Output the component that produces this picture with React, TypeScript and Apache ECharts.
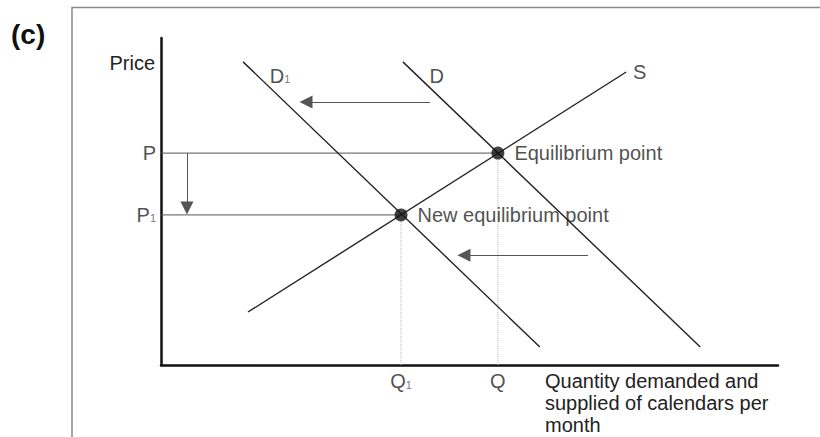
import React, { useEffect, useRef } from "react";
import * as echarts from "echarts";

// Curves (axis units 0-100)
const demandD: [number, number][] = [[39.2, 92.7], [87.4, 5.5]];
const demandD1: [number, number][] = [[13.3, 92.7], [61.4, 5.5]];
const supplyS: [number, number][] = [[14.1, 16.2], [75.4, 89.6]];
// Equilibria
const equilibrium: [number, number] = [54.6, 64.8];
const newEquilibrium: [number, number] = [38.9, 45.9];
// Shift arrows [tail, arrow-head centre]
const shiftArrows: [number, number][][] = [
  [[43.6, 80.4], [23.5, 80.4]],
  [[69.2, 33.6], [49.1, 33.6]],
  [[4.2, 64.8], [4.2, 48.0]],
];
// Curve name labels
const curveLabels: [number, number, string][] = [
  [19.3, 88.4, "{m|D}{s|1}"],
  [44.7, 88.4, "{m|D}"],
  [77.6, 89.6, "{m|S}"],
];
const pointLabels = ["Equilibrium point", "New equilibrium point"];
const priceTicks: [number, string][] = [[equilibrium[1], "{m|P}"], [newEquilibrium[1], "{m|P}{s|1}"]];
const qtyTicks: [number, string][] = [[equilibrium[0], "{m|Q}"], [newEquilibrium[0], "{m|Q}{s|1}"]];
const xTitle = "Quantity demanded and\nsupplied of calendars per\nmonth";
const yTitle = "Price";
const panelTag = "(c)";

const FONT = "'Liberation Sans', Arial, sans-serif";
const TXT = "#222";
const rich = {
  m: { fontSize: 20, color: TXT, fontFamily: FONT },
  s: { fontSize: 11, color: "#555", fontFamily: FONT, verticalAlign: "bottom" as const, padding: [0, 0, 1, 0] },
};

export default function App() {
  const ref = useRef<HTMLDivElement>(null);
  useEffect(() => {
    const chart = echarts.init(ref.current!, undefined, { renderer: "svg" });
    const axisBase = {
      type: "value" as const,
      min: 0,
      max: 100,
      axisLine: { show: true, lineStyle: { color: "#111", width: 2.5 } },
      axisTick: { show: false },
      axisLabel: { show: false },
      splitLine: { show: false },
    };
    const curve = (data: [number, number][]) => ({
      type: "line" as const,
      data,
      symbol: "none",
      lineStyle: { color: "#222", width: 1.4 },
      z: 3,
    });
    chart.setOption({
      animation: false,
      backgroundColor: "#fff",
      grid: { left: 161, top: 38, right: 42, bottom: 72 },
      xAxis: axisBase,
      yAxis: axisBase,
      graphic: [
        {
          type: "polyline",
          shape: { points: [[72, 437], [72, 7.5], [820, 7.5]] },
          style: { stroke: "#8a8a8a", lineWidth: 1.5, fill: "none" },
        },
        {
          type: "text",
          left: 11,
          top: 20,
          style: { text: panelTag, font: `bold 28px ${FONT}`, fill: "#111" },
        },
        {
          type: "text",
          right: 820 - 155,
          top: 53,
          style: { text: yTitle, font: `20px ${FONT}`, fill: TXT },
        },
        {
          type: "text",
          left: 545,
          top: 370,
          style: { text: xTitle, font: `20px ${FONT}`, fill: TXT, lineHeight: 22 },
        },
      ],
      series: [
        {
          type: "line",
          data: [[0, equilibrium[1]], equilibrium],
          symbol: "none",
          lineStyle: { color: "#555", width: 1 },
        },
        {
          type: "line",
          data: [[0, newEquilibrium[1]], newEquilibrium],
          symbol: "none",
          lineStyle: { color: "#555", width: 1 },
        },
        {
          type: "line",
          data: [[equilibrium[0], 0], equilibrium],
          symbol: "none",
          lineStyle: { color: "#bbb", width: 1, type: "dotted" },
        },
        {
          type: "line",
          data: [[newEquilibrium[0], 0], newEquilibrium],
          symbol: "none",
          lineStyle: { color: "#bbb", width: 1, type: "dotted" },
        },
        curve(demandD),
        curve(demandD1),
        curve(supplyS),
        {
          type: "lines",
          coordinateSystem: "cartesian2d",
          data: shiftArrows.map((c) => ({ coords: c })),
          symbol: ["none", "triangle"],
          symbolSize: [9, 13],
          lineStyle: { color: "#555", width: 1, opacity: 1 },
          itemStyle: { color: "#111" },
          z: 4,
        },
        {
          type: "scatter",
          data: [equilibrium, newEquilibrium],
          symbolSize: 13,
          itemStyle: { color: "#111" },
          label: {
            show: true,
            position: "right",
            distance: 10,
            formatter: (p: any) => pointLabels[p.dataIndex],
            fontSize: 20,
            fontFamily: FONT,
            color: TXT,
          },
          z: 5,
        },
        {
          type: "scatter",
          data: curveLabels,
          symbolSize: 0,
          label: {
            show: true,
            position: "inside",
            formatter: (p: any) => curveLabels[p.dataIndex][2],
            rich,
          },
        },
        {
          type: "scatter",
          data: priceTicks.map((t) => [0, t[0]]),
          symbolSize: 0,
          label: {
            show: true,
            position: "left",
            distance: 5,
            formatter: (p: any) => priceTicks[p.dataIndex][1],
            rich,
          },
        },
        {
          type: "scatter",
          data: qtyTicks.map((t) => [t[0], 0]),
          symbolSize: 0,
          label: {
            show: true,
            position: "bottom",
            distance: 6,
            formatter: (p: any) => qtyTicks[p.dataIndex][1],
            rich,
          },
        },
      ],
    });
    return () => chart.dispose();
  }, []);
  return (
    <div
      ref={ref}
      style={{ position: "fixed", left: 0, top: 0, width: 820, height: 437, background: "#fff" }}
    />
  );
}
